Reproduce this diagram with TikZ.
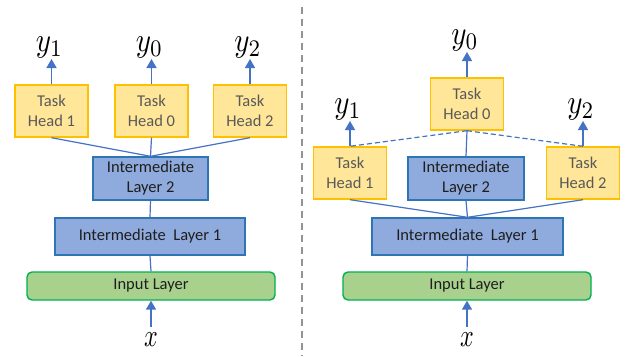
\documentclass[tikz,border=0pt]{standalone}
\usepackage{fontspec}
\setmainfont{Carlito}
\usetikzlibrary{arrows.meta}
\definecolor{headfill}{HTML}{FFE699}
\definecolor{headline}{HTML}{FFC000}
\definecolor{midfill}{HTML}{8FAADC}
\definecolor{midline}{HTML}{2E75B6}
\definecolor{infill}{HTML}{A9D18E}
\definecolor{inline}{HTML}{00B050}
\definecolor{wire}{HTML}{4472C4}
\definecolor{headtext}{HTML}{595959}
\definecolor{darktext}{HTML}{1E1E1E}
% enlarged math symbols for the outputs and the input
\newcommand{\outsym}[1]{\scalebox{2.9}[3.4]{$#1$}}
\newcommand{\insym}[1]{\scalebox{2.4}[3.2]{$#1$}}
\tikzset{
  headbox/.style={draw=headline, fill=headfill, line width=1.4pt, minimum width=73pt,
    minimum height=52pt, inner sep=0pt, align=center, text=headtext,
    font=\fontsize{16.5}{20}\selectfont},
  midbox/.style={draw=midline, fill=midfill, line width=1.4pt, inner sep=0pt,
    align=center, text=darktext, font=\fontsize{16.5}{20}\selectfont},
  inbox/.style={draw=inline, fill=infill, line width=1.4pt, rounded corners=5pt,
    minimum width=248pt, minimum height=28pt, inner sep=0pt, text=darktext,
    font=\fontsize{16.5}{20}\selectfont},
  link/.style={draw=wire, line width=1.2pt},
  dlink/.style={draw=wire, line width=1.2pt, dash pattern=on 5pt off 3pt},
  outarrow/.style={draw=wire, line width=1.5pt, -{Triangle[length=9pt,width=10pt]}},
  outlabel/.style={inner sep=0.5pt},
  divider/.style={draw=gray!85, line width=1.5pt, dash pattern=on 7pt off 5pt}
}
\begin{document}
\begin{tikzpicture}[x=1pt, y=-1pt]
\useasboundingbox (0,0) rectangle (626,356);

% left: all heads share the top intermediate layer
\node[headbox] (lh1) at (51.5,111) {Task\\Head 1};
\node[headbox] (lh0) at (151.5,111) {Task\\Head 0};
\node[headbox] (lh2) at (250,111) {Task\\Head 2};
\node[midbox, minimum width=115pt, minimum height=43pt] (lm2) at (150.5,178.5) {Intermediate\\Layer 2};
\node[midbox, minimum width=190pt, minimum height=37pt] (lm1) at (150,236.5) {Intermediate\ \ Layer 1};
\node[inbox] (lin) at (151,286) {Input Layer};

\coordinate (ly1) at (51.5,59);
\coordinate (ly0) at (151.5,59);
\coordinate (ly2) at (250,59);
\node[outlabel, anchor=south] (ty1) at ([xshift=-2pt]ly1) {\outsym{y_1}};
\node[outlabel, anchor=south] (ty0) at ([xshift=-2pt]ly0) {\outsym{y_0}};
\node[outlabel, anchor=south] (ty2) at ([xshift=-2pt]ly2) {\outsym{y_2}};
\draw[outarrow] (lh1.north) -- (ly1);
\draw[outarrow] (lh0.north) -- (ly0);
\draw[outarrow] (lh2.north) -- (ly2);

\draw[link] (lh1.south) -- (lm2.north);
\draw[link] (lh0.south) -- (lm2.north);
\draw[link] (lh2.south) -- (lm2.north);
\draw[link] (lm2.south) -- (lm1.north);
\draw[link] (lm1.south) -- (lin.north);

\coordinate (lx) at (151,327);
\node[outlabel, anchor=north] (tx) at ([yshift=-5pt]lx) {\insym{x}};
\draw[outarrow] (lx) -- (lin.south);

% divider
\coordinate (dtop) at (302,7);
\coordinate (dbot) at (302,356);
\draw[divider] (dtop) -- (dbot);

% right: heads branch from different depths
\node[headbox] (rh0) at (467,104) {Task\\Head 0};
\node[headbox] (rh1) at (350,173) {Task\\Head 1};
\node[headbox] (rh2) at (583,173) {Task\\Head 2};
\node[midbox, minimum width=116pt, minimum height=43pt] (rm2) at (466,178.5) {Intermediate\\Layer 2};
\node[midbox, minimum width=191pt, minimum height=37pt] (rm1) at (467.5,236.5) {Intermediate\ \ Layer 1};
\node[inbox] (rin) at (467,286) {Input Layer};

\coordinate (ry0) at (467,52);
\coordinate (ry1) at (350,121);
\coordinate (ry2) at (583,121);
\node[outlabel, anchor=south] (sy0) at ([xshift=-2pt]ry0) {\outsym{y_0}};
\node[outlabel, anchor=south] (sy1) at ([xshift=-2pt]ry1) {\outsym{y_1}};
\node[outlabel, anchor=south] (sy2) at ([xshift=-2pt]ry2) {\outsym{y_2}};
\draw[outarrow] (rh0.north) -- (ry0);
\draw[outarrow] (rh1.north) -- (ry1);
\draw[outarrow] (rh2.north) -- (ry2);

\draw[dlink] (rh0.south) -- (rh1.north);
\draw[dlink] (rh0.south) -- (rh2.north);
\draw[link] (rm2.north) -- (rh0.south);
\draw[link] (rh1.south) -- (rm1.north);
\draw[link] (rh2.south) -- (rm1.north);
\draw[link] (rm2.south) -- (rm1.north);
\draw[link] (rm1.south) -- (rin.north);

\coordinate (rx) at (467,327);
\node[outlabel, anchor=north] (sx) at ([yshift=-5pt]rx) {\insym{x}};
\draw[outarrow] (rx) -- (rin.south);
\end{tikzpicture}
\end{document}
